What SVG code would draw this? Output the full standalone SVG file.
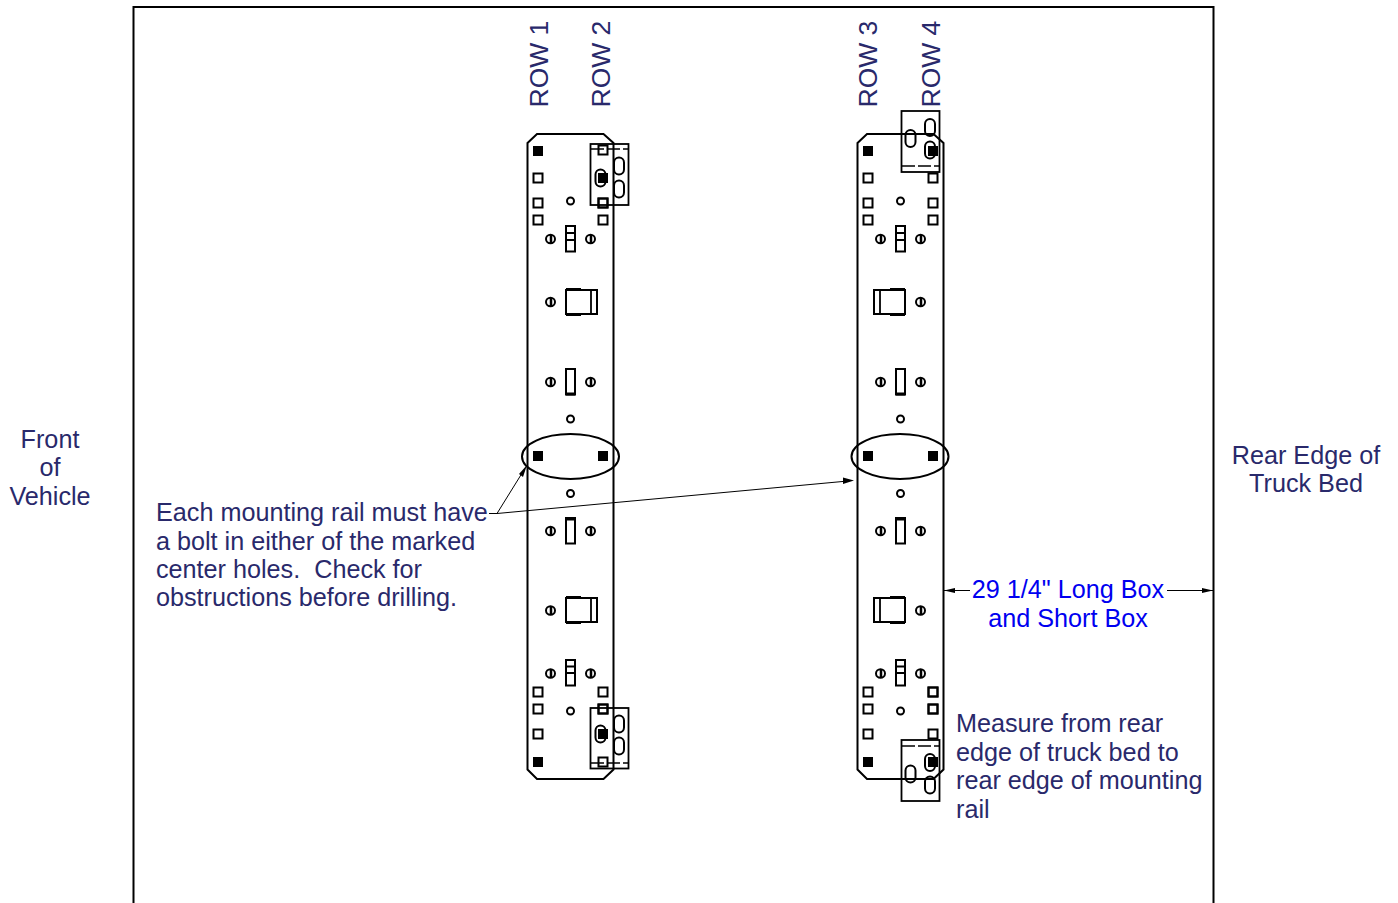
<svg xmlns="http://www.w3.org/2000/svg" width="1398" height="903" viewBox="0 0 1398 903">
<style>
.l{fill:none;stroke:#000;stroke-width:2}
.t{fill:none;stroke:#000;stroke-width:1}
.b{fill:none;stroke:#000;stroke-width:1.800}
.d{fill:none;stroke:#000;stroke-width:1.500;stroke-dasharray:13 3}
.txt{font-family:"Liberation Sans",Arial,sans-serif;font-size:25.200px;fill:#29296b}
.row{font-size:26.500px}
.blue{fill:#0000f0}
.m{text-anchor:middle}
</style>
<defs>
<rect id="fs" x="-5" y="-5" width="10" height="10" fill="#000"/>
<rect id="hs" x="-4.500" y="-4.500" width="9" height="9" class="l"/>
<circle id="c" r="3.500" class="l"/>
<g id="mk"><ellipse rx="4.500" ry="4.200" class="l"/><path d="M0.500-4V4" stroke="#000" stroke-width="2.500"/></g>
<rect id="sr" x="-4.500" y="-13" width="9" height="25.500" class="l"/>
<rect id="sl" x="-5" y="-8.500" width="10" height="17" rx="5" class="l"/>
<g id="body">
<path d="M527.500 143L537 134H603.500L613.500 143V769.500L603.500 779H537L527.500 769.500Z" class="l"/>
<use href="#fs" x="538" y="151"/><use href="#fs" x="538" y="456"/><use href="#fs" x="603" y="456"/><use href="#fs" x="538" y="762"/>
<use href="#hs" x="538" y="178"/><use href="#hs" x="538" y="203"/><use href="#hs" x="538" y="220"/><use href="#hs" x="603" y="203"/><use href="#hs" x="603" y="220"/>
<use href="#hs" x="538" y="692"/><use href="#hs" x="538" y="709"/><use href="#hs" x="538" y="734"/><use href="#hs" x="603" y="692"/><use href="#hs" x="603" y="709"/>
<use href="#c" x="570.500" y="201"/><use href="#c" x="570.500" y="419"/><use href="#c" x="570.500" y="493.500"/><use href="#c" x="570.500" y="711"/>
<use href="#mk" x="550.500" y="239"/><use href="#mk" x="590.500" y="239"/><use href="#mk" x="550.500" y="382"/><use href="#mk" x="590.500" y="382"/><use href="#mk" x="550.500" y="531"/><use href="#mk" x="590.500" y="531"/><use href="#mk" x="550.500" y="673.500"/><use href="#mk" x="590.500" y="673.500"/>
<use href="#sr" x="570.500" y="239"/><use href="#sr" x="570.500" y="382"/><use href="#sr" x="570.500" y="531"/><use href="#sr" x="570.500" y="673"/>
<path d="M566 233H575M566 240H575M566 666.500H575M566 673H575" class="b"/>
<path d="M566 394H575M566 519H575" stroke="#000" stroke-width="3"/>
</g>
</defs>
<g id="frame"><path d="M133.500 903V7H1213.500V903" class="l"/></g>

<g id="rail-1">
<use href="#body"/>
<use href="#mk" x="550.500" y="302"/><use href="#mk" x="550.500" y="610.500"/>
<rect x="566" y="290" width="31" height="24" class="l"/><path d="M591 290V314" class="b"/><path d="M566 289H581M566 315H581" class="b"/>
<rect x="566" y="598" width="31" height="24" class="l"/><path d="M591 598V622" class="b"/><path d="M566 597H581M566 623H581" class="b"/>
<g id="bracket-1">
<use href="#hs" x="603" y="150"/><use href="#fs" x="603" y="178"/><use href="#hs" x="603" y="203"/>
<rect x="590.500" y="144" width="38" height="61" class="b"/>
<path d="M591 149H628" class="d"/>
<use href="#sl" x="619" y="166"/><use href="#sl" x="619" y="189"/><use href="#sl" x="600.500" y="178"/>
</g>
<g id="bracket-2">
<use href="#hs" x="603" y="762"/><use href="#fs" x="603" y="734"/><use href="#hs" x="603" y="709"/>
<rect x="590.500" y="708" width="38" height="60.500" class="b"/>
<path d="M591 763H628" class="d"/>
<use href="#sl" x="619" y="724"/><use href="#sl" x="619" y="746"/><use href="#sl" x="600.500" y="734"/>
</g>
<ellipse cx="570.500" cy="456.500" rx="48.500" ry="22.500" class="l"/>
</g>

<g id="rail-2">
<use href="#body" x="330"/>
<use href="#hs" x="933" y="178"/><use href="#hs" x="933" y="692"/><use href="#hs" x="933" y="709"/><use href="#hs" x="933" y="734"/>
<use href="#mk" x="920.500" y="302"/><use href="#mk" x="920.500" y="610.500"/>
<rect x="874" y="290" width="31" height="24" class="l"/><path d="M880 290V314" class="b"/><path d="M890 289H905M890 315H905" class="b"/>
<rect x="874" y="598" width="31" height="24" class="l"/><path d="M880 598V622" class="b"/><path d="M890 597H905M890 623H905" class="b"/>
<g id="bracket-3">
<use href="#fs" x="933" y="151"/>
<rect x="901.500" y="111" width="38" height="61" class="b"/>
<path d="M902 166H939" class="d"/>
<use href="#sl" x="910.500" y="138.500"/><use href="#sl" x="930" y="127.500"/><use href="#sl" x="930" y="150"/>
</g>
<g id="bracket-4">
<use href="#fs" x="933" y="762"/>
<rect x="901.500" y="740" width="38" height="61" class="b"/>
<path d="M902 746H939" class="d"/>
<use href="#sl" x="910.500" y="774"/><use href="#sl" x="930" y="785"/><use href="#sl" x="930" y="762.500"/>
</g>
<ellipse cx="900" cy="456.500" rx="48.500" ry="22.500" class="l"/>
</g>

<g id="connectors" fill="#000" stroke="#000">
<path d="M489 513.500H497L524 470" fill="none" stroke-width="1"/>
<path d="M497 513.500L848 481" fill="none" stroke-width="1"/>
<path d="M527 465L523 477L519 474Z" stroke="none"/>
<path d="M854 480.500L843 477.500V484Z" stroke="none"/>
<path d="M944 590.500H970M1167 590.500H1213" fill="none" stroke-width="1"/>
<path d="M944 590.500L955 588V593Z" stroke="none"/>
<path d="M1213 590.500L1202 588V593Z" stroke="none"/>
</g>

<g id="labels">
<text class="txt row" transform="translate(548 107.500) rotate(-90)">ROW 1</text>
<text class="txt row" transform="translate(609.500 107.500) rotate(-90)">ROW 2</text>
<text class="txt row" transform="translate(877 107.500) rotate(-90)">ROW 3</text>
<text class="txt row" transform="translate(939.500 107.500) rotate(-90)">ROW 4</text>
<g class="txt m"><text x="50" y="448">Front</text><text x="50" y="476">of</text><text x="50" y="505">Vehicle</text></g>
<g class="txt m"><text x="1306" y="464">Rear Edge of</text><text x="1306" y="492">Truck Bed</text></g>
<g class="txt"><text x="156" y="520.500">Each mounting rail must have</text><text x="156" y="549.500">a bolt in either of the marked</text><text xml:space="preserve" x="156" y="577.500">center holes.  Check for</text><text x="156" y="605.500">obstructions before drilling.</text></g>
<g class="txt m"><text class="blue" x="1068" y="597.500">29 1/4" Long Box</text><text class="blue" x="1068" y="626.500">and Short Box</text></g>
<g class="txt"><text x="956" y="731.500">Measure from rear</text><text x="956" y="760.500">edge of truck bed to</text><text x="956" y="788.500">rear edge of mounting</text><text x="956" y="817.500">rail</text></g>
</g>
</svg>
